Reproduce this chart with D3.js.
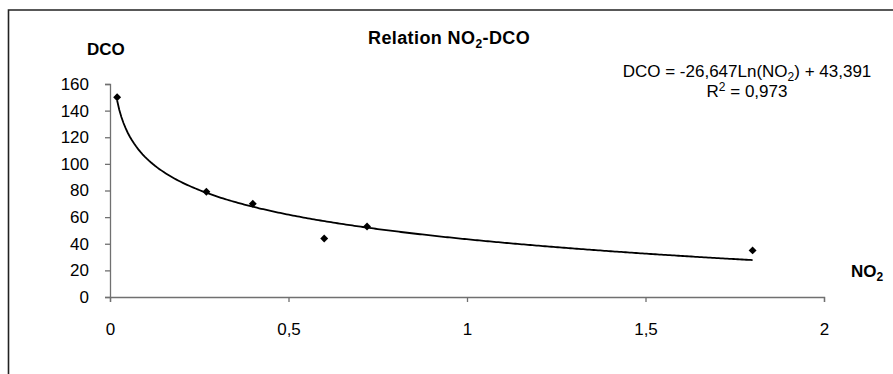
<!DOCTYPE html>
<html><head><meta charset="utf-8">
<script src="https://cdn.jsdelivr.net/npm/d3@7"></script>
<style>body{margin:0;background:#fff}svg{display:block;font-family:"Liberation Sans",Arial,sans-serif}</style>
</head><body>
<svg id="c" width="893" height="374"></svg>
<script>
const no2 = [0.02, 0.27, 0.40, 0.60, 0.72, 1.80];
const dco = [150, 79, 70, 44, 53, 35];
const xTicks = [0, 0.5, 1, 1.5, 2];
const yTicks = [0, 20, 40, 60, 80, 100, 120, 140, 160];
const trendA = -26.647, trendB = 43.391; // DCO = a*Ln(NO2)+b (displayed trendline)

const svg = d3.select("#c");
const x = d3.scaleLinear().domain([0, 2]).range([110, 824]);
const y = d3.scaleLinear().domain([0, 160]).range([297, 84]);

svg.append("path").attr("d","M8.5,374V10H893").attr("fill","none").attr("stroke","#222").attr("stroke-width",1.6);

const fmt = d => String(d).replace(".", ",");
const xa = svg.append("g").attr("transform","translate(0,297)")
  .call(d3.axisBottom(x).tickValues(xTicks).tickFormat(fmt).tickSize(5).tickPadding(21));
const ya = svg.append("g").attr("transform","translate(110,0)")
  .call(d3.axisLeft(y).tickValues(yTicks).tickSize(5).tickPadding(16));
[xa, ya].forEach(g => {
  g.select(".domain").attr("stroke","#707070").attr("stroke-width",1.3);
  g.selectAll(".tick line").attr("stroke","#707070").attr("stroke-width",1.3);
  g.selectAll("text").attr("font-size",17).attr("fill","#000").attr("font-family","Liberation Sans, Arial");
});

const tx = d3.range(0, 301).map(i => no2[0] + (no2[no2.length-1]-no2[0]) * i/300);
const line = d3.line().x(d => x(d)).y(d => y(trendA*Math.log(d)+trendB));
svg.append("path").datum(tx).attr("d", line).attr("fill","none").attr("stroke","#000").attr("stroke-width",1.8);

svg.selectAll(".pt").data(no2).enter().append("path")
  .attr("d", d3.symbol(d3.symbolDiamond2, 40)())
  .attr("transform",(d,i)=>`translate(${x(d)},${y(dco[i])})`)
  .attr("fill","#000");

svg.append("text").attr("x",368).attr("y",44).attr("font-size",18).attr("font-weight","bold")
  .attr("letter-spacing",0.4)
  .html('Relation NO<tspan font-size="12" dy="4">2</tspan><tspan dy="-4">-DCO</tspan>');
svg.append("text").attr("x",87).attr("y",55).attr("font-size",17).attr("font-weight","bold").text("DCO");
svg.append("text").attr("x",851).attr("y",277).attr("font-size",17).attr("font-weight","bold")
  .html('NO<tspan font-size="12" dy="4">2</tspan>');
svg.append("text").attr("x",747).attr("y",77).attr("text-anchor","middle").attr("font-size",17)
  .html('DCO = -26,647Ln(NO<tspan font-size="12" dy="4">2</tspan><tspan dy="-4">) + 43,391</tspan>');
svg.append("text").attr("x",747).attr("y",97).attr("text-anchor","middle").attr("font-size",17)
  .html('R<tspan font-size="12" dy="-6">2</tspan><tspan dy="6"> = 0,973</tspan>');
</script>
</body></html>
